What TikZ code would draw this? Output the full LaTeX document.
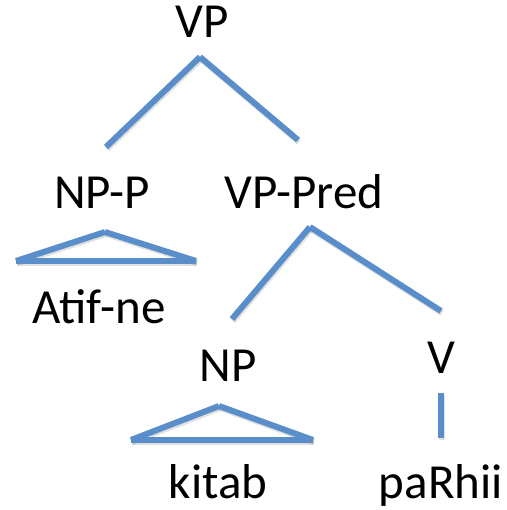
\documentclass[tikz,border=0pt]{standalone}
\usepackage{fontspec}
\setmainfont{Carlito}
\usepackage{tikz}
\usetikzlibrary{positioning}
\definecolor{treeblue}{RGB}{90,142,202}

\tikzset{
  lbl/.style={anchor=base, inner sep=0pt, font=\fontsize{49}{59}\selectfont},
  branch/.style={draw=treeblue, line width=6pt,
    preaction={draw=black, draw opacity=0.12, line width=6pt,
      transform canvas={shift={(1pt,-2pt)}}}}
}

\begin{document}
\begin{tikzpicture}[x=1pt, y=-1pt]
\useasboundingbox (0,0) rectangle (506,510);
% labels
\node[lbl] (vp) at (202,38) {VP};
\node[lbl] (npp) at (102,209) {NP-P};
\node[lbl] (vppred) at (304,209) {VP-Pred};
\node[lbl] (atif) at (99,323) {Atif-ne};
\node[lbl] (np) at (228,381) {NP};
\node[lbl] (v) at (441,373) {V};
\node[lbl] (kitab) at (218,498) {kitab};
\node[lbl] (parhii) at (441,498) {paRhii};
% branch ends
\coordinate (vp-top) at (200,57);
\coordinate (vp-l) at (106,147);
\coordinate (vp-r) at (298,140);
\coordinate (pred-top) at (310,227);
\coordinate (pred-l) at (232,319);
\coordinate (pred-r) at (441,311);
\coordinate (npp-top) at (105,232);
\coordinate (npp-l) at (16,261);
\coordinate (npp-r) at (196,261);
\coordinate (np-top) at (219,406);
\coordinate (np-l) at (131,440);
\coordinate (np-r) at (313,440);
\coordinate (v-top) at (441,393);
\coordinate (v-bot) at (441,438);
% VP
\draw[branch] (vp-top) -- (vp-l);
\draw[branch] (vp-top) -- (vp-r);
% VP-Pred
\draw[branch] (pred-top) -- (pred-l);
\draw[branch] (pred-top) -- (pred-r);
% roofs
\draw[branch] (npp-top) -- (npp-l);
\draw[branch] (npp-top) -- (npp-r);
\draw[branch] (npp-l) -- (npp-r);
\draw[branch] (np-top) -- (np-l);
\draw[branch] (np-top) -- (np-r);
\draw[branch] (np-l) -- (np-r);
% V
\draw[branch] (v-top) -- (v-bot);
\end{tikzpicture}
\end{document}
